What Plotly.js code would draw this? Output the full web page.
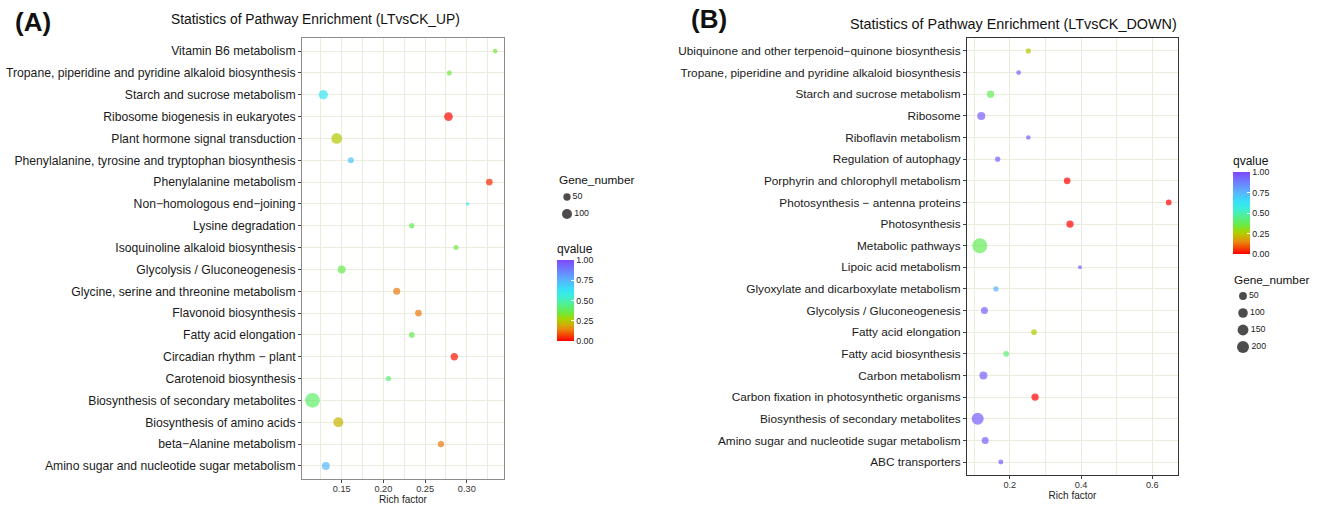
<!DOCTYPE html>
<html><head><meta charset="utf-8">
<script src="https://cdn.plot.ly/plotly-3.0.1.min.js"></script>
<style>html,body{margin:0;padding:0;background:#fff}</style>
</head><body><div id="chart" style="width:1328px;height:506px"></div>
<script>
// ---------- Panel A data (top to bottom) ----------
const pathwaysA = ["Vitamin B6 metabolism", "Tropane, piperidine and pyridine alkaloid biosynthesis", "Starch and sucrose metabolism", "Ribosome biogenesis in eukaryotes", "Plant hormone signal transduction", "Phenylalanine, tyrosine and tryptophan biosynthesis", "Phenylalanine metabolism", "Non\u2212homologous end\u2212joining", "Lysine degradation", "Isoquinoline alkaloid biosynthesis", "Glycolysis / Gluconeogenesis", "Glycine, serine and threonine metabolism", "Flavonoid biosynthesis", "Fatty acid elongation", "Circadian rhythm \u2212 plant", "Carotenoid biosynthesis", "Biosynthesis of secondary metabolites", "Biosynthesis of amino acids", "beta\u2212Alanine metabolism", "Amino sugar and nucleotide sugar metabolism"];
const richA = [0.334, 0.279, 0.128, 0.278, 0.144, 0.161, 0.327, 0.301, 0.234, 0.287, 0.150, 0.216, 0.242, 0.234, 0.285, 0.206, 0.115, 0.146, 0.269, 0.131];
const geneA = [25, 27, 84, 72, 117, 35, 42, 22, 29, 27, 60, 46, 42, 32, 50, 29, 247, 100, 38, 60];
const qA = [0.33, 0.35, 0.62, 0.01, 0.25, 0.72, 0.04, 0.62, 0.37, 0.35, 0.37, 0.13, 0.13, 0.37, 0.02, 0.42, 0.40, 0.21, 0.13, 0.74];
const sizeBreaksA = [50, 100];

// ---------- Panel B data (top to bottom) ----------
const pathwaysB = ["Ubiquinone and other terpenoid\u2212quinone biosynthesis", "Tropane, piperidine and pyridine alkaloid biosynthesis", "Starch and sucrose metabolism", "Ribosome", "Riboflavin metabolism", "Regulation of autophagy", "Porphyrin and chlorophyll metabolism", "Photosynthesis \u2212 antenna proteins", "Photosynthesis", "Metabolic pathways", "Lipoic acid metabolism", "Glyoxylate and dicarboxylate metabolism", "Glycolysis / Gluconeogenesis", "Fatty acid elongation", "Fatty acid biosynthesis", "Carbon metabolism", "Carbon fixation in photosynthetic organisms", "Biosynthesis of secondary metabolites", "Amino sugar and nucleotide sugar metabolism", "ABC transporters"];
const richB = [0.252, 0.225, 0.146, 0.120, 0.252, 0.166, 0.361, 0.646, 0.369, 0.116, 0.397, 0.161, 0.129, 0.268, 0.190, 0.126, 0.271, 0.110, 0.131, 0.175];
const geneB = [7, 4, 36, 52, 3, 7, 25, 11, 36, 380, 2, 7, 30, 11, 11, 52, 36, 202, 30, 5];
const qB = [0.25, 0.95, 0.38, 0.95, 0.95, 0.95, 0.00, 0.00, 0.00, 0.38, 0.95, 0.75, 0.95, 0.25, 0.42, 0.95, 0.00, 0.95, 0.95, 0.95];
const sizeBreaksB = [50, 100, 150, 200];

const qTicks = [0, 0.25, 0.5, 0.75, 1];

// ---------- styling ----------
const W = 1328, H = 506;
const FONT = "Liberation Sans, Arial, Helvetica, sans-serif";
const px = v => v / W;
const py = v => 1 - v / H;
const gridCol = "#EAECDC";
const qScale = [
  [0.00, "#FF0000"], [0.08, "#F24A00"], [0.15, "#E88A10"], [0.21, "#C8B400"],
  [0.27, "#A8D400"], [0.35, "#6CEA40"], [0.45, "#52F08C"], [0.55, "#3CEED8"],
  [0.63, "#35E3F5"], [0.75, "#58B4FF"], [0.88, "#6E7CFF"], [1.00, "#7F48FF"]
];

// ggplot-like area scale: sqrt of rescaled value mapped to a diameter range
function sizeScale(values, dmin, dmax) {
  const lo = Math.min(...values), hi = Math.max(...values);
  return n => dmin + (dmax - dmin) * Math.sqrt(Math.max(0, (n - lo) / (hi - lo)));
}
const sizeA = sizeScale(geneA, 3.3, 14.7);
const sizeB = sizeScale(geneB, 4.0, 15.0);

function xAxis(domain, range, dtick, minorDtick, fmt, lineCol) {
  return {
    domain, range, autorange: false, dtick, tick0: 0, tickformat: fmt,
    showgrid: true, gridcolor: gridCol, gridwidth: 1, zeroline: false,
    minor: {dtick: minorDtick, tick0: 0, showgrid: true, gridcolor: gridCol, gridwidth: 0.8, ticks: ""},
    showline: true, mirror: true, linecolor: lineCol, linewidth: 1,
    ticks: "outside", ticklen: 3, tickcolor: "#444", tickwidth: 1, ticklabelstandoff: -2,
    tickfont: {size: 9.2, color: "#333", family: FONT},
    title: {text: "Rich factor", font: {size: 10, color: "#222", family: FONT}, standoff: 0}
  };
}
function yAxis(domain, cats, lineCol, fsize) {
  return {
    domain, type: "category", categoryarray: cats.slice().reverse(), categoryorder: "array",
    range: [-0.6, cats.length - 0.4], autorange: false,
    showgrid: true, gridcolor: gridCol, gridwidth: 1, zeroline: false,
    showline: true, mirror: true, linecolor: lineCol, linewidth: 1,
    ticks: "outside", ticklen: 3, tickcolor: "#444", tickwidth: 1,
    tickfont: {size: fsize, color: "#1a1a1a", family: FONT}
  };
}
function colorbar(xLeft, yTop, lenPx) {
  return {
    x: px(xLeft), xanchor: "left", y: py(yTop), yanchor: "top",
    len: lenPx, lenmode: "pixels", thickness: 17, thicknessmode: "pixels",
    outlinewidth: 0, xpad: 0, ypad: 0,
    title: {text: "qvalue", side: "top", font: {size: 12, color: "#111", family: FONT}},
    tickmode: "array", tickvals: qTicks, tickformat: ".2f",
    ticks: "inside", ticklen: 3, tickcolor: "#ffffff", tickwidth: 1,
    tickfont: {size: 8.8, color: "#222", family: FONT}
  };
}
function note(text, x, y, size, xanchor) {
  return {text, x: px(x), y: py(y), xref: "paper", yref: "paper", showarrow: false,
    xanchor: xanchor || "center", yanchor: "middle", font: {size, color: "#111", family: FONT}};
}

const traces = [
  {type: "scatter", mode: "markers", x: richA, y: pathwaysA, xaxis: "x", yaxis: "y",
   marker: {size: geneA.map(sizeA), sizemode: "diameter", color: qA, coloraxis: "coloraxis", line: {width: 0}},
   showlegend: false, cliponaxis: false, hovertemplate: "%{y}<br>%{x}<extra></extra>"},
  {type: "scatter", mode: "markers", x: richB, y: pathwaysB, xaxis: "x2", yaxis: "y2",
   marker: {size: geneB.map(sizeB), sizemode: "diameter", color: qB, coloraxis: "coloraxis2", line: {width: 0}},
   showlegend: false, cliponaxis: false, hovertemplate: "%{y}<br>%{x}<extra></extra>"},
  // size legends drawn on hidden axes
  {type: "scatter", mode: "markers+text", x: sizeBreaksA.map(() => 0), y: sizeBreaksA.map(String),
   text: sizeBreaksA.map(String), textposition: "middle right", xaxis: "x3", yaxis: "y3",
   textfont: {size: 8.8, color: "#222", family: FONT},
   marker: {size: sizeBreaksA.map(sizeA), color: "#000", line: {width: 0}},
   showlegend: false, cliponaxis: false, hoverinfo: "skip"},
  {type: "scatter", mode: "markers+text", x: sizeBreaksB.map(() => 0), y: sizeBreaksB.map(String),
   text: sizeBreaksB.map(String), textposition: "middle right", xaxis: "x4", yaxis: "y4",
   textfont: {size: 8.8, color: "#222", family: FONT},
   marker: {size: sizeBreaksB.map(sizeB), color: "#000", line: {width: 0}},
   showlegend: false, cliponaxis: false, hoverinfo: "skip"}
];

const hidden = {visible: false, showgrid: false, zeroline: false, fixedrange: true};

const layout = {
  width: W, height: H, margin: {l: 0, r: 0, t: 0, b: 0},
  paper_bgcolor: "#fff", plot_bgcolor: "#fff",
  font: {family: FONT, color: "#222"},
  showlegend: false,
  xaxis: Object.assign(xAxis([px(302), px(504)], [0.1024, 0.3446], 0.05, 0.025, ".2f", "#8c8c8c"), {anchor: "y"}),
  yaxis: Object.assign(yAxis([py(479), py(38)], pathwaysA, "#8c8c8c", 12.2), {anchor: "x"}),
  xaxis2: Object.assign(xAxis([px(967), px(1178)], [0.080, 0.672], 0.2, 0.1, ".1f", "#333"), {anchor: "y2"}),
  yaxis2: Object.assign(yAxis([py(475), py(38)], pathwaysB, "#333", 11.8), {anchor: "x2"}),
  xaxis3: Object.assign({domain: [px(567), px(640)], range: [0, 1], anchor: "y3"}, hidden),
  yaxis3: Object.assign({domain: [py(222.5), py(188.5)], type: "category", categoryarray: sizeBreaksA.map(String),
    range: [sizeBreaksA.length - 0.5, -0.5], anchor: "x3"}, hidden),
  xaxis4: Object.assign({domain: [px(1243), px(1320)], range: [0, 1], anchor: "y4"}, hidden),
  yaxis4: Object.assign({domain: [py(355.5), py(287.5)], type: "category", categoryarray: sizeBreaksB.map(String),
    range: [sizeBreaksB.length - 0.5, -0.5], anchor: "x4"}, hidden),
  coloraxis: {cmin: 0, cmax: 1, colorscale: qScale, colorbar: colorbar(557, 241, 100)},
  coloraxis2: {cmin: 0, cmax: 1, colorscale: qScale, colorbar: colorbar(1233, 153, 101)},
  annotations: [
    note("<b>(A)</b>", 33, 22, 26),
    note("<b>(B)</b>", 709, 19, 26),
    note("Statistics of Pathway Enrichment (LTvsCK_UP)", 315, 19, 13.8),
    note("Statistics of Pathway Enrichment (LTvsCK_DOWN)", 1013, 24, 14.4),
    note("Gene_number", 557, 180, 11.8, "left"),
    note("Gene_number", 1232, 280, 11.8, "left")
  ]
};

Plotly.newPlot("chart", traces, layout, {displayModeBar: false});
</script>
</body></html>
